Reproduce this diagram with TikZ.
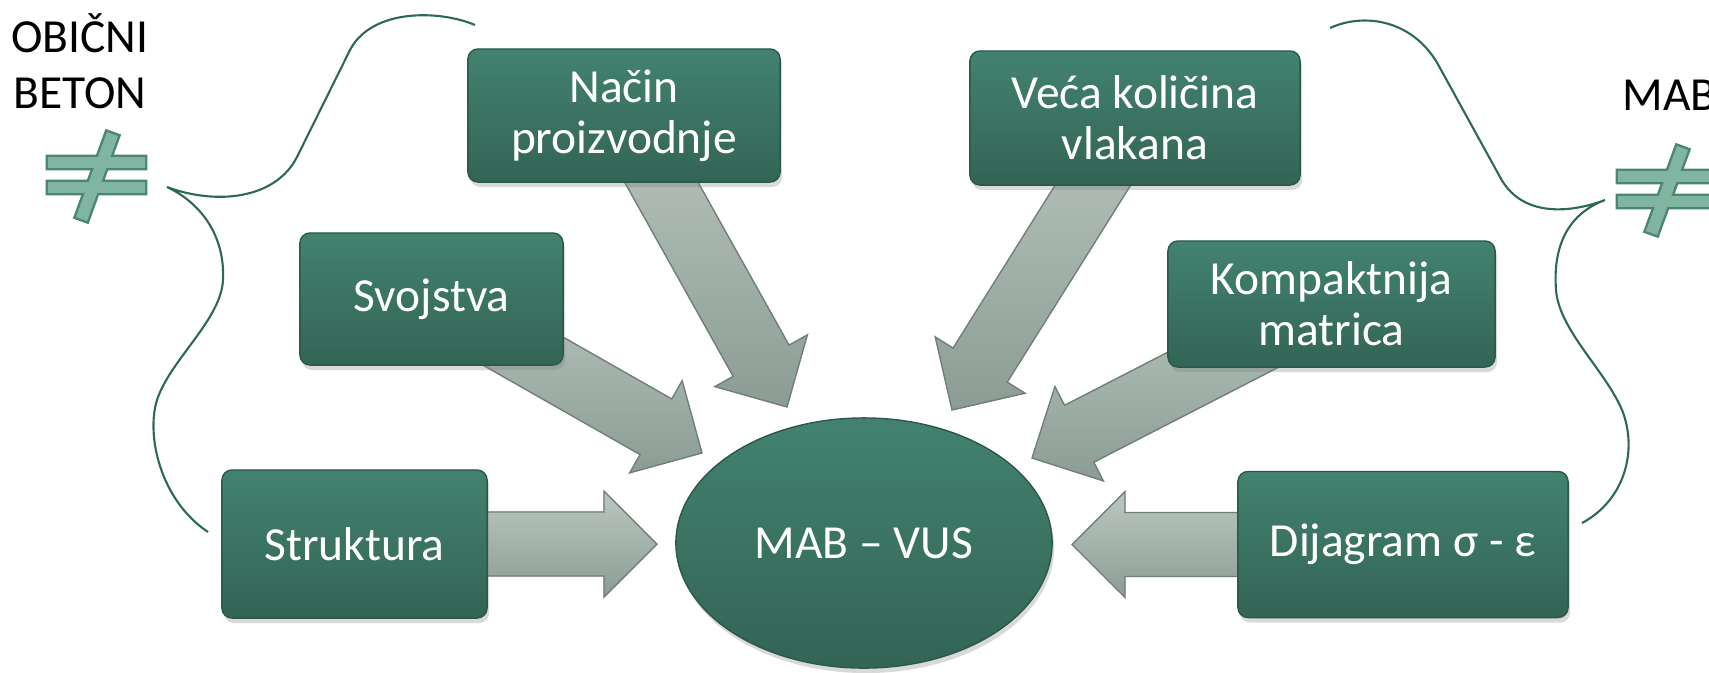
\documentclass[tikz,border=0pt]{standalone}
\usepackage{fontspec}
\setmainfont{Carlito}
\usetikzlibrary{positioning,calc,shapes.geometric,shadows,backgrounds}
\definecolor{kutija1}{RGB}{67,130,112}
\definecolor{kutija2}{RGB}{51,100,85}
\definecolor{kutijarub}{RGB}{44,88,75}
\definecolor{strelica1}{RGB}{186,199,192}
\definecolor{strelica2}{RGB}{140,156,148}
\definecolor{strelicarub}{RGB}{112,128,120}
\definecolor{vitica}{RGB}{46,104,88}
\definecolor{znak}{RGB}{127,181,161}
\definecolor{znakrub}{RGB}{76,134,114}
\newcommand{\tekst}{\fontsize{13.5pt}{14.5pt}\selectfont}
% blok strelica od cvora #1 do vrha #2
\newcommand{\strelica}[2]{%
  \coordinate (vrat) at ($(#2)!0.53cm!(#1)$);
  \filldraw[blok] ($(#1)!0.32cm!90:(#2)$) -- ($(vrat)!0.32cm!90:(#2)$) -- ($(vrat)!0.53cm!90:(#2)$)
    -- (#2) -- ($(vrat)!0.53cm!-90:(#2)$) -- ($(vrat)!0.32cm!-90:(#2)$) -- ($(#1)!0.32cm!-90:(#2)$) -- cycle;}
% znak nejednako
\newcommand{\nejednako}[1]{%
  \begin{scope}[shift={#1}]
    \draw[znakrub, line width=1.4pt] (-48.5,-18) rectangle (48.5,-7) (-48.5,7) rectangle (48.5,18)
      (10.5,-43) -- (21.5,-39) -- (-9.5,46) -- (-20.5,42) -- cycle;
    \fill[znak] (-48.5,-18) rectangle (48.5,-7);
    \fill[znak] (-48.5,7) rectangle (48.5,18);
    \fill[znak] (10.5,-43) -- (21.5,-39) -- (-9.5,46) -- (-20.5,42) -- cycle;
  \end{scope}}

\begin{document}
\begin{tikzpicture}[x=0.01cm,y=-0.01cm,%
  kutija/.style={rectangle,rounded corners=0.1cm,draw=kutijarub,line width=0.4pt,%
    top color=kutija1,bottom color=kutija2,text=white,font=\tekst,align=center,inner sep=0pt,%
    drop shadow={opacity=0.3,shadow xshift=0.02cm,shadow yshift=-0.05cm}},%
  blok/.style={draw=strelicarub,line width=0.4pt,top color=strelica1,bottom color=strelica2},%
  vitica/.style={draw=vitica,line width=0.6pt},%
  natpis/.style={font=\tekst,text=black,anchor=base,inner sep=0pt}%
  ]
  \useasboundingbox (0,0) rectangle (1709,672);
  \clip (0,0) rectangle (1709,672);
%
  \node[natpis] (obicni) at (80,52) {OBIČNI};
  \node[natpis] (beton) at (80,108) {BETON};
  \node[natpis,anchor=base west] (mab) at (1622,110) {MAB};
  \nejednako{(96.5,175)}
  \nejednako{(1666.5,189)}
%
  \draw[vitica] (475,25) .. controls (440,10) and (372,8) .. (350,50) -- (297,157)
    .. controls (275,200) and (215,205) .. (167,187)
    .. controls (205,205) and (225,240) .. (223,280)
    .. controls (221,320) and (170,360) .. (157,400)
    .. controls (146,435) and (160,500) .. (208,532);
  \draw[vitica] (1330,28) .. controls (1365,12) and (1415,20) .. (1440,68) -- (1500,177)
    .. controls (1520,215) and (1565,215) .. (1605,200)
    .. controls (1565,215) and (1553,250) .. (1556,290)
    .. controls (1559,330) and (1605,370) .. (1622,410)
    .. controls (1638,450) and (1625,500) .. (1582,523);
%
  \node[ellipse,draw=kutijarub,top color=kutija1,bottom color=kutija2,text=white,font=\tekst,
    minimum width=3.76cm,minimum height=2.5cm,inner sep=0pt,
    drop shadow={opacity=0.3,shadow xshift=0.02cm,shadow yshift=-0.05cm}] (mabvus) at (864,543) {MAB – VUS};
%
  \node[kutija,minimum width=3.12cm,minimum height=1.33cm] (nacin) at (624,115.5) {Način\\proizvodnje};
  \node[kutija,minimum width=2.63cm,minimum height=1.32cm] (svojstva) at (431.5,299) {Svojstva};
  \node[kutija,minimum width=2.65cm,minimum height=1.48cm] (struktura) at (354.5,544) {Struktura};
  \node[kutija,minimum width=3.30cm,minimum height=1.34cm] (veca) at (1135,118) {Veća količina\\vlakana};
  \node[kutija,minimum width=3.27cm,minimum height=1.26cm] (kompakt) at (1331.5,304) {Kompaktnija\\matrica};
  \node[kutija,minimum width=3.30cm,minimum height=1.46cm] (dijagram) at (1403,544.5) {Dijagram σ - ε};
%
  \coordinate (t-struktura) at (657,544);
  \coordinate (t-svojstva) at (702,453);
  \coordinate (t-nacin) at (787,407);
  \coordinate (t-veca) at (952,410);
  \coordinate (t-kompakt) at (1032,458);
  \coordinate (t-dijagram) at (1072,544.5);
%
  \begin{pgfonlayer}{background}
    \strelica{struktura}{t-struktura}
    \strelica{svojstva}{t-svojstva}
    \strelica{nacin}{t-nacin}
    \strelica{veca}{t-veca}
    \strelica{kompakt}{t-kompakt}
    \strelica{dijagram}{t-dijagram}
  \end{pgfonlayer}
%
\end{tikzpicture}
\end{document}
